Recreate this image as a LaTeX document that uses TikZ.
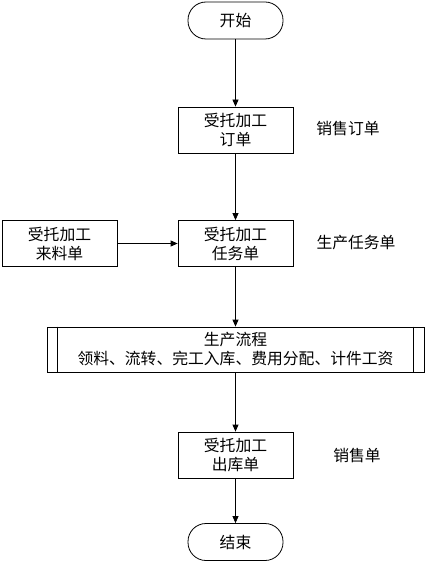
\documentclass[tikz,border=0pt]{standalone}
\usepackage{fontspec}
\setmainfont{Noto Sans CJK SC}
\usetikzlibrary{arrows.meta}
\begin{document}
\begin{tikzpicture}[x=1pt, y=-1pt,
        every node/.style={font=\fontsize{15.8}{19}\selectfont, align=center, inner sep=0pt},
        box/.style={draw, line width=0.8pt, minimum width=115pt, minimum height=46pt},
        term/.style={draw, line width=0.8pt, rounded corners=18pt, minimum width=95pt, minimum height=37pt},
        flow/.style={draw, line width=0.8pt, minimum width=377pt, minimum height=45pt},
        arr/.style={line width=0.8pt, -{Triangle[length=7pt, width=6pt]}}]
        \useasboundingbox (0,0) rectangle (427,564);
        \node[term] (start) at (235.5,20.5) {开始};
        \node[box] (order) at (235.5,130) {受托加工\\订单};
        \node[box] (mat) at (59.5,243.5) {受托加工\\来料单};
        \node[box] (task) at (235.5,243.5) {受托加工\\任务单};
        \node[flow] (proc) at (235.5,349.5) {生产流程\\领料、流转、完工入库、费用分配、计件工资};
        \node[box] (out) at (235.5,455) {受托加工\\出库单};
        \node[term] (end) at (235.5,542) {结束};
        \node (l1) at (348,128) {销售订单};
        \node (l2) at (356,243) {生产任务单};
        \node (l3) at (357,455) {销售单};
        \draw[line width=0.8pt] ([xshift=11pt]proc.north west) -- ([xshift=11pt]proc.south west);
        \draw[line width=0.8pt] ([xshift=-11pt]proc.north east) -- ([xshift=-11pt]proc.south east);
        \foreach \i/\j in {start/order, order/task, mat/task, task/proc, proc/out, out/end}
            \draw[arr] (\i) -- (\j);
    \end{tikzpicture}
\end{document}
